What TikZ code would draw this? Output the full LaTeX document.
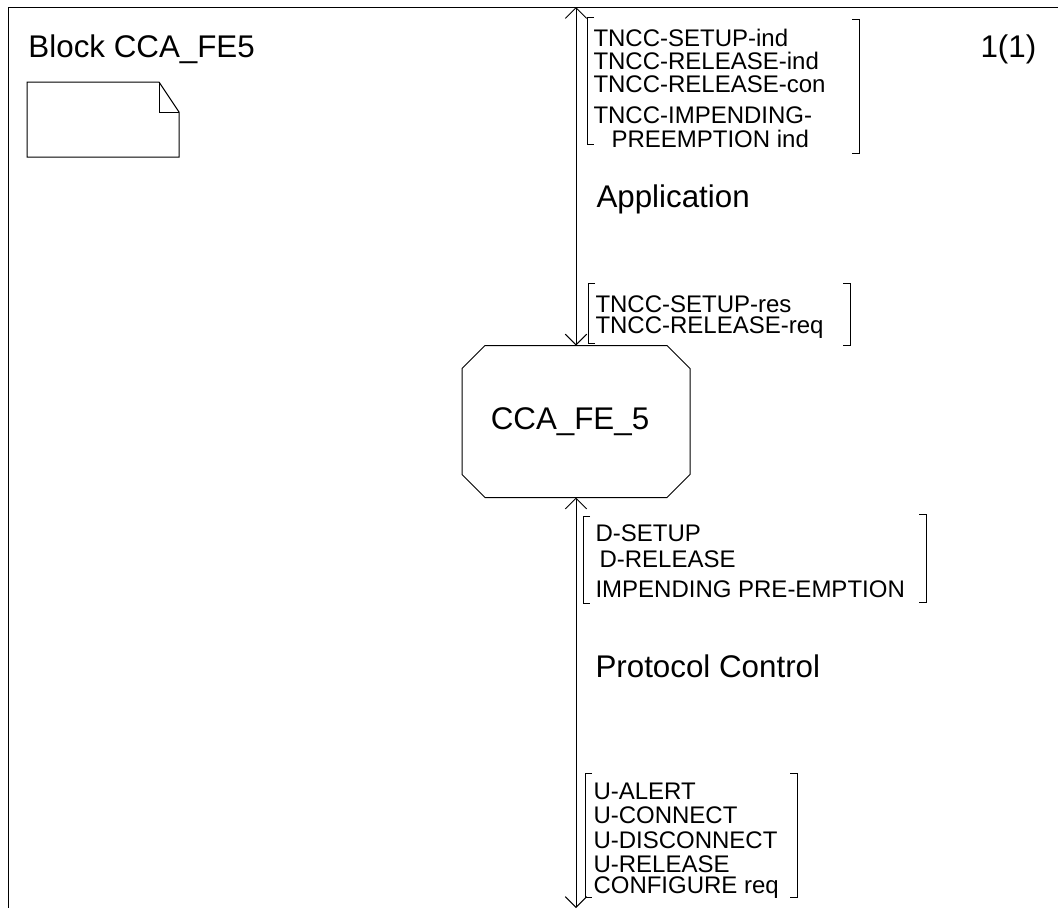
\documentclass[tikz,border=0pt]{standalone}
\usepackage{fontspec}
\setmainfont{Liberation Sans}
\usetikzlibrary{arrows.meta}
\begin{document}
\begin{tikzpicture}[x=0.75pt,y=-0.75pt,line width=0.75pt,
  big/.style={font=\fontsize{23.5}{28}\selectfont, inner sep=0pt, anchor=base west},
  small/.style={font=\fontsize{18}{21}\selectfont, inner sep=0pt, anchor=base west},
  chan/.style={{Straight Barb[length=8pt,width=16pt]}-{Straight Barb[length=8pt,width=16pt]}}]
\useasboundingbox (0,0) rectangle (1058,908);
% frame
\draw (1058,7) -- (8,7) -- (8,908);
% titles
\node[big] (title) at (28,57) {Block CCA\_FE5};
\node[big] (page) at (980,57) {1(1)};
% note symbol
\draw (27,82) -- (159,82) -- (179,112) -- (179,157) -- (27,157) -- cycle;
\draw (159,82) -- (159,112) -- (179,112);
% process
\node[minimum width=170.25pt, minimum height=113.25pt, inner sep=0pt,
      font=\fontsize{23.5}{28}\selectfont] (fe) at (576,421.5) {CCA\_FE\_5\kern9pt};
\draw ([xshift=17.25pt]fe.north west) -- ([xshift=-17.25pt]fe.north east)
   -- ([yshift=-17.25pt]fe.north east) -- ([yshift=17.25pt]fe.south east)
   -- ([xshift=-17.25pt]fe.south east) -- ([xshift=17.25pt]fe.south west)
   -- ([yshift=17.25pt]fe.south west) -- ([yshift=-17.25pt]fe.north west) -- cycle;
% channels
\coordinate (ctop) at (576,7);
\coordinate (cbot) at (576,908);
\draw[chan] (ctop) -- (fe.north);
\draw[chan] (fe.south) -- (cbot);
% channel names
\node[big] (app) at (596,207) {Application};
\node[big] (pc) at (595,677) {Protocol Control};
% signal list 1
\draw (594,17) -- (587,17) -- (587,144) -- (594,144);
\draw (852,19) -- (859,19) -- (859,153) -- (852,153);
\node[small] (s1) at (593,46) {TNCC-SETUP-ind};
\node[small] (s2) at (593,69) {TNCC-RELEASE-ind};
\node[small] (s3) at (593,92) {TNCC-RELEASE-con};
\node[small] (s4) at (593,123) {TNCC-IMPENDING-};
\node[small] (s5) at (611,147) {PREEMPTION ind};
% signal list 2
\draw (595,283) -- (588,283) -- (588,343) -- (595,343);
\draw (843,283) -- (850,283) -- (850,345) -- (843,345);
\node[small] (r1) at (595,312) {TNCC-SETUP-res};
\node[small] (r2) at (595,333) {TNCC-RELEASE-req};
% signal list 3
\draw (590,516) -- (583,516) -- (583,603) -- (590,603);
\draw (919,514) -- (926,514) -- (926,602) -- (919,602);
\node[small] (d1) at (595,541) {D-SETUP};
\node[small] (d2) at (599,567) {D-RELEASE};
\node[small] (d3) at (595,597) {IMPENDING PRE-EMPTION};
% signal list 4
\draw (592,773) -- (585,773) -- (585,897) -- (592,897);
\draw (790,773) -- (797,773) -- (797,897) -- (790,897);
\node[small] (u1) at (593,799) {U-ALERT};
\node[small] (u2) at (593,823) {U-CONNECT};
\node[small] (u3) at (593,848) {U-DISCONNECT};
\node[small] (u4) at (593,872) {U-RELEASE};
\node[small] (u5) at (593,893) {CONFIGURE req};
\end{tikzpicture}
\end{document}
